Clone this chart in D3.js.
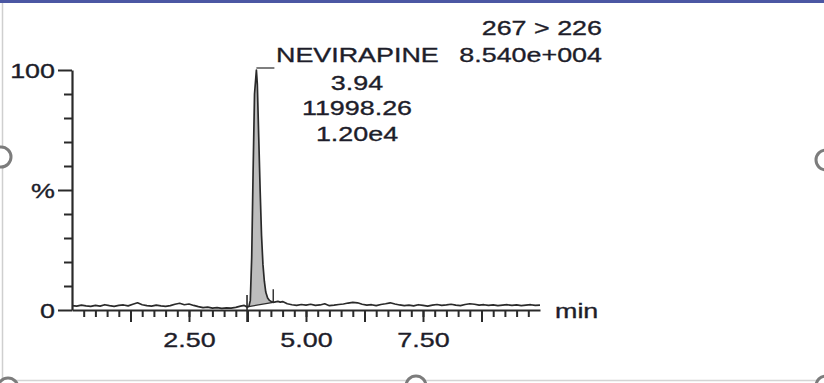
<!DOCTYPE html>
<html><head><meta charset="utf-8">
<script src="https://cdn.jsdelivr.net/npm/d3@7"></script>
<style>
body{margin:0;background:#fff;overflow:hidden}
svg{display:block}
text{font-family:"Liberation Sans",Arial,sans-serif;stroke:#1d1d2a;stroke-width:0.35px}
</style>
</head><body>
<script>
// ---- data ----
const times = [0.00,0.10,0.20,0.30,0.40,0.50,0.60,0.70,0.80,0.90,1.00,1.10,1.20,1.30,1.40,1.50,1.60,1.70,1.80,1.90,
  2.00,2.10,2.20,2.30,2.40,2.50,2.60,2.70,2.80,2.90,3.00,3.10,3.20,3.30,3.40,3.50,3.60,3.68,3.74,3.78,
  3.81,3.84,3.87,3.90,3.94,3.96,3.99,4.02,4.05,4.08,4.11,4.14,4.18,4.22,4.26,4.30,4.35,4.40,4.45,4.50,
  4.60,4.70,4.80,4.90,5.00,5.10,5.20,5.30,5.40,5.50,5.60,5.70,5.80,5.90,6.00,6.10,6.20,6.30,6.40,6.50,
  6.60,6.70,6.80,6.90,7.00,7.10,7.20,7.30,7.40,7.50,7.60,7.70,7.80,7.90,8.00,8.10,8.20,8.30,8.40,8.50,
  8.60,8.70,8.80,8.90,9.00,9.10,9.20,9.30,9.40,9.50,9.60,9.70,9.80,9.90,10.00];
const intensity = [1.8,1.6,2.0,1.7,1.5,1.9,1.6,2.2,1.8,1.5,1.9,2.1,1.7,2.4,3.0,2.2,1.8,1.6,2.0,1.7,
  1.5,1.8,2.4,2.8,2.2,2.5,1.9,1.4,1.0,1.2,0.8,1.0,0.7,0.9,0.8,1.1,1.6,1.9,1.3,1.5,
  4,22,58,90,100,94,72,50,31,19,12,7.5,5,4,3.5,3.2,3.4,3.6,3.3,3.5,
  2.6,2.2,1.9,2.3,2.0,2.4,1.9,2.1,2.6,1.8,2.0,2.3,2.5,2.9,3.2,3.0,2.4,2.0,2.2,1.8,
  2.3,2.6,3.0,2.5,2.1,1.8,2.0,1.7,2.2,1.9,1.6,2.0,2.3,1.9,2.1,2.4,2.0,1.8,2.3,2.6,
  2.4,2.0,2.2,1.9,2.1,1.8,2.0,2.2,1.9,2.1,1.8,2.0,2.2,1.9,2.0];

const xDomain = [0, 10];
const yDomain = [0, 100];
const xMinorTicks = d3.range(0.25, 10, 0.25);
const xMediumTicks = [1.25, 3.75, 6.25, 8.75];
const xMajorTicks = [2.5, 5, 7.5];
const xMajorLabels = ["2.50", "5.00", "7.50"];
const yMinorTicks = [10, 20, 30, 40, 60, 70, 80, 90];
const yMajorTicks = [0, 50, 100];
const yMajorLabels = ["0", "%", "100"];
const xUnit = "min";

const peakName = "NEVIRAPINE";
const peakApex = 3.94;
const peakStart = 3.74;
const peakEnd = 4.30;
const peakInfo = ["3.94", "11998.26", "1.20e4"];
const channelLabel = "267 > 226";
const maxCountLabel = "8.540e+004";

// ---- layout ----
const W = 824, H = 383;
const SX = 1.28; // horizontal stretch of the original image text
const ink = "#1d1d2a";
const lineCol = "#2a2a2a";

const svg = d3.select("body").append("svg").attr("width", W).attr("height", H);

const x = d3.scaleLinear().domain(xDomain).range([72, 540]);
const y = d3.scaleLinear().domain(yDomain).range([310, 70]);

function stext(g, str, px, py, anchor, size, color) {
  return g.append("text")
    .attr("transform", `translate(${px},${py}) scale(${SX},1)`)
    .attr("text-anchor", anchor)
    .attr("font-size", size)
    .attr("fill", color || ink)
    .text(str);
}

// frame decorations
svg.append("rect").attr("x", 0).attr("y", 0).attr("width", W).attr("height", 3).attr("fill", "#4b57a3");
svg.append("line").attr("x1", 2.5).attr("x2", 2.5).attr("y1", 3).attr("y2", H).attr("stroke", "#cfcfcf").attr("stroke-width", 1.5);
svg.append("line").attr("x1", 0).attr("x2", W).attr("y1", 380.5).attr("y2", 380.5).attr("stroke", "#d4d4d4").attr("stroke-width", 1.5);

// peak integration fill
const data = times.map((t, i) => ({t, v: intensity[i]}));
const vStart = intensity[times.indexOf(peakStart)];
const vEnd = intensity[times.indexOf(peakEnd)];
const base = t => vStart + (vEnd - vStart) * (t - peakStart) / (peakEnd - peakStart);
const peakData = data.filter(d => d.t >= peakStart && d.t <= peakEnd);
svg.append("path").datum(peakData)
  .attr("d", d3.area().x(d => x(d.t)).y0(d => y(base(d.t))).y1(d => y(d.v)))
  .attr("fill", "#bdbdbd");

// axes
const ax = svg.append("g").attr("color", lineCol);

const xMinor = d3.axisBottom(x).tickValues(xMinorTicks).tickSize(7).tickSizeOuter(0).tickFormat("");
const gxm = ax.append("g").attr("transform", "translate(0,310)").call(xMinor);
gxm.selectAll("line").attr("stroke-width", 2);
gxm.select(".domain").attr("stroke-width", 2.2);

const xMed = d3.axisBottom(x).tickValues(xMediumTicks).tickSize(12).tickFormat("");
const gxd = ax.append("g").attr("transform", "translate(0,310)").call(xMed);
gxd.select(".domain").remove();
gxd.selectAll("line").attr("stroke-width", 2);

const xMaj = d3.axisBottom(x).tickValues(xMajorTicks).tickSize(12).tickPadding(0)
  .tickFormat((d, i) => xMajorLabels[i]);
const gxM = ax.append("g").attr("transform", "translate(0,310)").call(xMaj);
gxM.select(".domain").remove();
gxM.selectAll("line").attr("stroke-width", 2);
gxM.selectAll("text").each(function () {
  const t = d3.select(this);
  t.attr("y", null).attr("dy", null)
    .attr("transform", `translate(0,37) scale(${SX},1)`)
    .attr("font-size", 21).attr("fill", ink)
    .attr("font-family", '"Liberation Sans",Arial,sans-serif');
});

const yMinor = d3.axisLeft(y).tickValues(yMinorTicks).tickSize(8).tickSizeOuter(0).tickFormat("");
const gym = ax.append("g").attr("transform", "translate(72,0)").call(yMinor);
gym.selectAll("line").attr("stroke-width", 2);
gym.select(".domain").attr("stroke-width", 2.2);

const yMaj = d3.axisLeft(y).tickValues(yMajorTicks).tickSize(14).tickPadding(0)
  .tickFormat((d, i) => yMajorLabels[i]);
const gyM = ax.append("g").attr("transform", "translate(72,0)").call(yMaj);
gyM.select(".domain").remove();
gyM.selectAll("line").attr("stroke-width", 2);
gyM.selectAll("text").each(function () {
  const t = d3.select(this);
  t.attr("x", null).attr("dy", null)
    .attr("transform", `translate(-17,7) scale(${SX},1)`)
    .attr("font-size", 21).attr("fill", ink)
    .attr("font-family", '"Liberation Sans",Arial,sans-serif');
});

// unit label
stext(svg, xUnit, 555, 318, "start", 21);

// integration markers
svg.append("line").attr("x1", x(peakStart)).attr("x2", x(peakStart))
  .attr("y1", y(vStart) - 12).attr("y2", 322).attr("stroke", lineCol).attr("stroke-width", 1.6);
svg.append("line").attr("x1", x(peakEnd)).attr("x2", x(peakEnd))
  .attr("y1", y(vEnd) - 13).attr("y2", y(vEnd)).attr("stroke", lineCol).attr("stroke-width", 1.4);
svg.append("line").attr("x1", x(peakStart)).attr("x2", x(peakEnd))
  .attr("y1", y(vStart)).attr("y2", y(vEnd)).attr("stroke", lineCol).attr("stroke-width", 1.3);

// trace
svg.append("path").datum(data)
  .attr("d", d3.line().x(d => x(d.t)).y(d => y(d.v)))
  .attr("fill", "none").attr("stroke", lineCol).attr("stroke-width", 1.7)
  .attr("stroke-linejoin", "round");

// peak label leader
svg.append("line").attr("x1", x(peakApex)).attr("x2", x(peakApex) + 18)
  .attr("y1", y(100) - 2).attr("y2", y(100) - 2).attr("stroke", "#555").attr("stroke-width", 1.5);

// labels
stext(svg, peakName, 276, 62, "start", 21);
stext(svg, peakInfo[0], 357, 90, "middle", 21);
stext(svg, peakInfo[1], 357, 115, "middle", 21);
stext(svg, peakInfo[2], 357, 141, "middle", 21);
stext(svg, channelLabel, 602, 35, "end", 21);
stext(svg, maxCountLabel, 602, 62, "end", 21);

// selection handles
const handles = [[1, 157], [826, 160], [416, 386], [8, 388], [826, 386]];
svg.selectAll("circle.h").data(handles).join("circle").attr("class", "h")
  .attr("cx", d => d[0]).attr("cy", d => d[1]).attr("r", 10)
  .attr("fill", "#fff").attr("stroke", "#7c7c7c").attr("stroke-width", 3);
</script>
</body></html>
